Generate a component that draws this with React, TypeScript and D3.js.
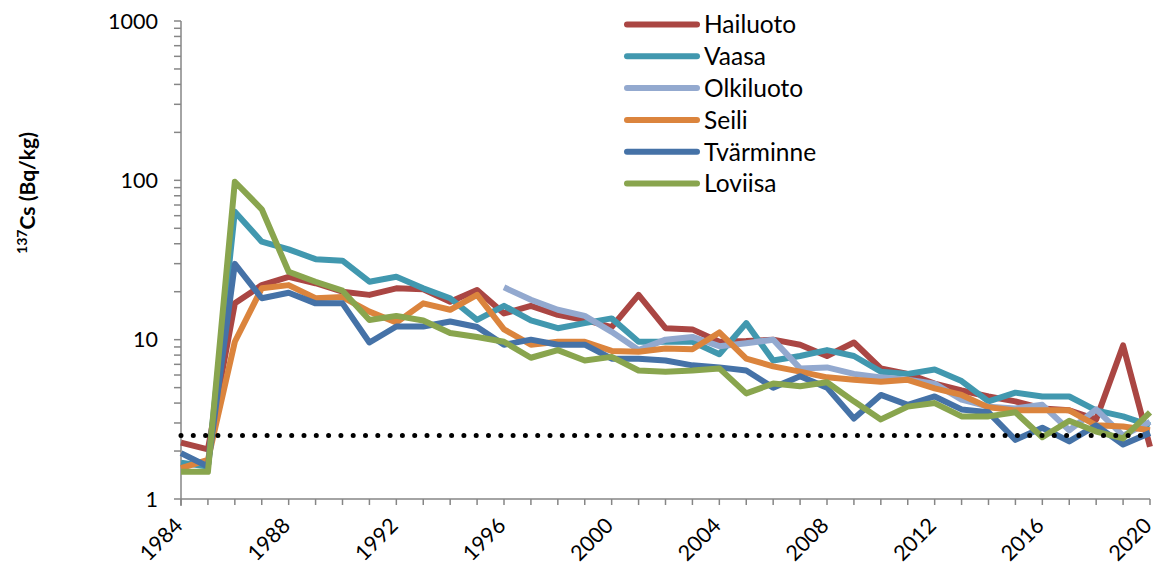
import React from "react";
import * as d3 from "d3";

const years: number[] = d3.range(1984, 2021);

const hailuoto = [2.26, 2.05, 16.9, 22, 24.8, 22.6, 20, 19.1, 21, 20.7, 17.3, 20.5, 14.6, 16.3, 14.3, 13.3, 12, 19.1, 11.8, 11.6, 9.7, 9.8, 10, 9.3, 7.9, 9.6, 6.6, 6.1, 5.3, 4.8, 4.4, 4.1, 3.7, 3.6, 3.16, 9.2, 2.13];
const vaasa = [1.69, 1.6, 63.6, 41.2, 36.9, 32, 31.3, 23.1, 24.8, 21, 18.2, 13.3, 16.3, 13.2, 11.8, 12.7, 13.6, 9.7, 9.7, 9.7, 8.1, 12.7, 7.4, 7.9, 8.6, 7.9, 6.3, 6.1, 6.5, 5.5, 4.1, 4.65, 4.4, 4.4, 3.6, 3.3, 2.9];
const olkiluoto = [null, null, null, null, null, null, null, null, null, null, null, null, 21.3, 17.8, 15.4, 14.1, 11.2, 8.6, 10, 10.4, 9.1, 9.5, 10, 6.6, 6.7, 6.1, 5.8, 5.6, 5.3, 4.2, 3.8, 3.7, 3.9, 2.7, 3.65, 2.5, 3.05];
const seili = [1.56, 1.76, 9.7, 21, 22, 18.2, 18.5, 15, 12.8, 16.9, 15.4, 19.1, 11.6, 9.3, 9.7, 9.7, 8.5, 8.4, 8.8, 8.7, 11.1, 7.6, 6.8, 6.3, 5.8, 5.6, 5.45, 5.6, 4.95, 4.5, 3.76, 3.6, 3.6, 3.6, 2.9, 2.85, 2.7];
const tvarminne = [1.94, 1.6, 29.9, 18.2, 19.7, 16.9, 16.9, 9.6, 12.1, 12.1, 13, 12, 9.3, 10, 9.3, 9.3, 7.6, 7.6, 7.4, 6.9, 6.7, 6.4, 5.0, 5.9, 5.0, 3.2, 4.5, 3.9, 4.4, 3.65, 3.5, 2.35, 2.8, 2.3, 2.9, 2.2, 2.6];
const loviisa = [1.48, 1.48, 98, 65.8, 26.7, 23.1, 20.3, 13.3, 14.1, 13.2, 11, 10.4, 9.7, 7.7, 8.6, 7.4, 7.8, 6.4, 6.3, 6.4, 6.6, 4.6, 5.3, 5.1, 5.4, 4.1, 3.16, 3.8, 4.0, 3.3, 3.3, 3.5, 2.44, 3.1, 2.65, 2.4, 3.5];
const detectionLimit = 2.5;

const seriesNames = ["Hailuoto", "Vaasa", "Olkiluoto", "Seili", "Tvärminne", "Loviisa"];
const seriesValues = [hailuoto, vaasa, olkiluoto, seili, tvarminne, loviisa];
const seriesColors = ["#AA4643", "#4198AF", "#93A9CF", "#DB843D", "#4572A7", "#89A54E"];

const yTickValues = [1, 10, 100, 1000];
const xTickLabels = [1984, 1988, 1992, 1996, 2000, 2004, 2008, 2012, 2016, 2020];

const FONT = "Lato, 'Open Sans', sans-serif";

export default function App() {
  const W = 1161, H = 574;
  const left = 181, right = 1150, top = 21, bottom = 499;
  const x = d3.scaleLinear().domain([1984, 2020]).range([left, right]);
  const y = d3.scaleLog().domain([1, 1000]).range([bottom, top]);

  const line = d3
    .line<number | null>()
    .defined((d) => d != null)
    .x((_, i) => x(years[i]))
    .y((d) => y(d as number));

  const minorTicks: number[] = [];
  [1, 10, 100].forEach((b) => {
    for (let k = 2; k <= 9; k++) minorTicks.push(b * k);
  });

  const axisColor = "#868686";

  return (
    <svg width={W} height={H} style={{ position: "absolute", left: 0, top: 0, background: "#fff" }}>
      {/* Y axis */}
      <line x1={left} x2={left} y1={top} y2={bottom + 7} stroke={axisColor} strokeWidth={1.5} />
      {yTickValues.map((v) => (
        <g key={"yt" + v}>
          <line x1={left - 7} x2={left} y1={y(v)} y2={y(v)} stroke={axisColor} strokeWidth={1.5} />
          <text x={left - 23} y={y(v)} dy="0.36em" textAnchor="end" fontFamily={FONT} fontSize={21.5} fill="#000">
            {v}
          </text>
        </g>
      ))}
      {minorTicks.map((v) => (
        <line key={"ym" + v} x1={left - 7} x2={left} y1={y(v)} y2={y(v)} stroke={axisColor} strokeWidth={1.5} />
      ))}
      {/* X axis */}
      <line x1={left} x2={right} y1={bottom} y2={bottom} stroke={axisColor} strokeWidth={1.5} />
      {years.map((yr) => (
        <line key={"xt" + yr} x1={x(yr)} x2={x(yr)} y1={bottom} y2={bottom + 6} stroke={axisColor} strokeWidth={1.5} />
      ))}
      {xTickLabels.map((yr) => (
        <text
          key={"xl" + yr}
          transform={`translate(${x(yr) + 3},${527}) rotate(-45)`}
          textAnchor="end"
          fontFamily={FONT}
          fontSize={21.5}
          fill="#000"
        >
          {yr}
        </text>
      ))}
      {/* Y axis title */}
      <text
        transform={`translate(35,${193}) rotate(-90)`}
        textAnchor="middle"
        fontFamily={FONT}
        fontSize={21}
        fontWeight="bold"
        fill="#000"
      >
        <tspan fontSize={14} dy="-8">137</tspan>
        <tspan dy="8">Cs (Bq/kg)</tspan>
      </text>
      {/* Series */}
      {seriesValues.map((vals, i) => (
        <path
          key={seriesNames[i]}
          d={line(vals as (number | null)[]) || ""}
          fill="none"
          stroke={seriesColors[i]}
          strokeWidth={6}
          strokeLinejoin="round"
          strokeLinecap="butt"
        />
      ))}
      {/* Detection limit dotted line */}
      <line
        x1={x(1984)}
        x2={x(2020)}
        y1={y(detectionLimit)}
        y2={y(detectionLimit)}
        stroke="#000"
        strokeWidth={5}
        strokeLinecap="round"
        strokeDasharray="0 12.3"
      />
      {/* Legend */}
      {seriesNames.map((name, i) => {
        const ly = 24.5 + i * 31.8;
        return (
          <g key={"lg" + name}>
            <line x1={627} x2={697} y1={ly} y2={ly} stroke={seriesColors[i]} strokeWidth={6} strokeLinecap="round" />
            <text x={704} y={ly} dy="0.36em" fontFamily={FONT} fontSize={24.5} fill="#000">
              {name}
            </text>
          </g>
        );
      })}
    </svg>
  );
}
